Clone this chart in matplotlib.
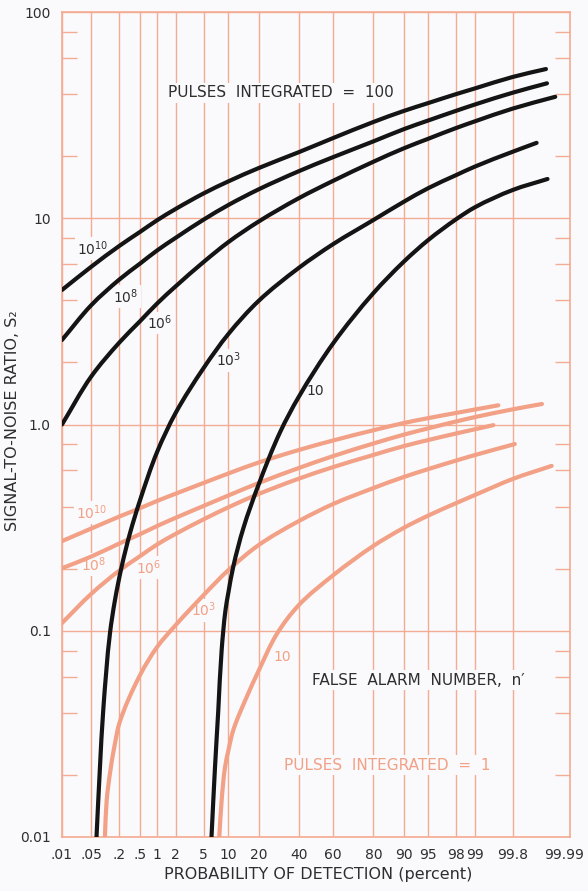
import math
import numpy as np
import matplotlib
matplotlib.use("Agg")
import matplotlib.pyplot as plt
from matplotlib.path import Path
from matplotlib.patches import PathPatch
from matplotlib.transforms import ScaledTranslation

# Probability of detection (percent) and required signal-to-noise ratio S2,
# one curve per false alarm number n'.  First group: 100 pulses integrated.
pd_100_1e10 = [0.01, 0.05, 0.2, 0.5, 1, 2, 5, 10, 20, 40, 60, 80, 90, 95, 98, 99, 99.8, 99.962]
s2_100_1e10 = [4.49, 5.82, 7.35, 8.59, 9.78, 11.1, 13.2, 15.1, 17.5, 20.9, 24.5, 29.3, 33.1, 36.2, 40.0, 42.6, 48.4, 52.9]

pd_100_1e8 = [0.01, 0.05, 0.2, 0.5, 1, 2, 5, 10, 20, 40, 60, 80, 90, 95, 98, 99, 99.8, 99.964]
s2_100_1e8 = [2.57, 3.79, 5.05, 6.03, 6.98, 8.04, 9.85, 11.6, 13.8, 16.9, 19.8, 23.6, 27.0, 29.8, 33.2, 35.6, 40.6, 45.1]

pd_100_1e6 = [0.01, 0.05, 0.2, 0.5, 1, 2, 5, 10, 20, 40, 60, 80, 90, 95, 98, 99, 99.8, 99.977]
s2_100_1e6 = [1.00, 1.71, 2.50, 3.17, 3.86, 4.68, 6.14, 7.67, 9.63, 12.5, 15.2, 18.8, 21.8, 24.3, 27.4, 29.5, 34.0, 38.8]

pd_100_1e3 = [0.0655, 0.078, 0.092, 0.128, 0.1625, 0.222, 0.324, 0.5, 1, 2, 5, 10, 20, 40, 60, 80,
              90, 95, 98, 99, 99.8, 99.938]
s2_100_1e3 = [0.01, 0.0218, 0.0413, 0.0975, 0.141, 0.205, 0.298, 0.43, 0.736, 1.14, 1.88, 2.75, 3.97,
              5.74, 7.50, 9.81, 12.0, 14.0, 16.2, 17.8, 21.0, 23.2]

pd_100_10 = [6.30, 6.96, 7.63, 8.36, 9.26, 10, 11.3, 14.4, 20, 30, 40, 60, 80, 90, 95, 98, 99, 99.8, 99.965]
s2_100_10 = [0.01, 0.0218, 0.0413, 0.0807, 0.126, 0.154, 0.205, 0.315, 0.51, 0.92, 1.36, 2.48, 4.34,
             6.14, 7.85, 9.9, 11.3, 13.7, 15.5]

# Single pulse (no integration)
pd_1_1e10 = [0.01, 0.05, 0.2, 0.5, 1, 2, 5, 10, 20, 40, 60, 80, 90, 95, 98, 99, 99.62]
s2_1_1e10 = [0.272, 0.313, 0.358, 0.393, 0.426, 0.462, 0.521, 0.579, 0.654, 0.752, 0.837, 0.938, 1.016,
             1.074, 1.138, 1.182, 1.239]

pd_1_1e8 = [0.01, 0.05, 0.2, 0.5, 1, 2, 5, 10, 20, 40, 60, 80, 90, 95, 98, 99, 99.8, 99.953]
s2_1_1e8 = [0.201, 0.229, 0.265, 0.294, 0.322, 0.353, 0.403, 0.453, 0.520, 0.615, 0.703, 0.809, 0.892,
            0.958, 1.035, 1.086, 1.184, 1.257]

pd_1_1e6 = [0.01, 0.05, 0.2, 0.5, 1, 2, 5, 10, 20, 40, 60, 80, 90, 95, 98, 99, 99.53]
s2_1_1e6 = [0.109, 0.151, 0.196, 0.230, 0.262, 0.295, 0.347, 0.397, 0.460, 0.546, 0.622, 0.712, 0.785,
            0.841, 0.905, 0.948, 0.993]

pd_1_1e3 = [0.100, 0.109, 0.128, 0.163, 0.2, 0.5, 1, 2, 5, 10, 20, 40, 60, 80, 90, 95, 98, 99, 99.82]
s2_1_1e3 = [0.01, 0.0151, 0.0204, 0.0286, 0.0357, 0.0610, 0.0834, 0.1066, 0.149, 0.197, 0.260, 0.340,
            0.412, 0.492, 0.556, 0.608, 0.669, 0.711, 0.804]

pd_1_10 = [7.84, 8.36, 9.14, 10, 11.3, 15.5, 20, 28.3, 40, 60, 80, 90, 95, 98, 99, 99.8, 99.972]
s2_1_10 = [0.01, 0.0151, 0.0218, 0.0264, 0.0330, 0.0477, 0.0638, 0.0964, 0.133, 0.186, 0.258, 0.315,
           0.362, 0.416, 0.455, 0.544, 0.630]

prob_ticks = [0.01, 0.05, 0.2, 0.5, 1, 2, 5, 10, 20, 40, 60, 80, 90, 95, 98, 99, 99.8, 99.99]
prob_labels = [".01", ".05", ".2", ".5", "1", "2", "5", "10", "20", "40", "60", "80",
               "90", "95", "98", "99", "99.8", "99.99"]
snr_ticks = [0.01, 0.1, 1, 10, 100]
snr_labels = ["0.01", "0.1", "1.0", "10", "100"]

BG = "#fafafc"
SALMON = "#f2a086"
GRID = "#f4ab93"
INK = "#141414"
TEXT = "#2e2e2e"

# inverse normal CDF (Acklam), input in percent
_a = [-3.969683028665376e+01, 2.209460984245205e+02, -2.759285104469687e+02,
      1.383577518672690e+02, -3.066479806614716e+01, 2.506628277459239e+00]
_b = [-5.447609879822406e+01, 1.615858368580409e+02, -1.556989798598866e+02,
      6.680131188771972e+01, -1.328068155288572e+01]
_c = [-7.784894002430293e-03, -3.223964580411365e-01, -2.400758277161838e+00,
      -2.549732539343734e+00, 4.374664141464968e+00, 2.938163982698783e+00]
_d = [7.784695709041462e-03, 3.224671290700398e-01, 2.445134137142996e+00,
      3.754408661907416e+00]


def probit(pct):
    p = np.clip(np.asarray(pct, dtype=float) / 100.0, 1e-12, 1 - 1e-12)
    q = p - 0.5
    r = q * q
    mid = (((((_a[0] * r + _a[1]) * r + _a[2]) * r + _a[3]) * r + _a[4]) * r + _a[5]) * q / \
          (((((_b[0] * r + _b[1]) * r + _b[2]) * r + _b[3]) * r + _b[4]) * r + 1)
    t = np.sqrt(-2 * np.log(np.minimum(p, 1 - p)))
    tail = (((((_c[0] * t + _c[1]) * t + _c[2]) * t + _c[3]) * t + _c[4]) * t + _c[5]) / \
           ((((_d[0] * t + _d[1]) * t + _d[2]) * t + _d[3]) * t + 1)
    tail = np.where(p < 0.5, tail, -tail)
    return np.where((p > 0.02425) & (p < 0.97575), mid, tail)


_erf = np.vectorize(math.erf)


def inv_probit(z):
    z = np.asarray(z, dtype=float)
    return 50.0 * (1.0 + _erf(z / math.sqrt(2.0)))


# rough aspect of one probit unit vs one decade on the sheet
ZX, LY = 68.3, 206.25


def curve_path(p, s):
    """Smooth Bezier path through the points, built in probit/log space."""
    pts = np.column_stack([probit(p) * ZX, np.log10(s) * LY])
    seg = np.diff(pts, axis=0)
    seglen = np.hypot(seg[:, 0], seg[:, 1])
    unit = seg / seglen[:, None]
    tang = np.empty_like(pts)
    tang[0] = unit[0]
    tang[-1] = unit[-1]
    mid = unit[:-1] + unit[1:]
    tang[1:-1] = mid / np.hypot(mid[:, 0], mid[:, 1])[:, None]
    verts = [pts[0]]
    for i in range(len(seg)):
        h = seglen[i] / 3.0
        verts += [pts[i] + tang[i] * h, pts[i + 1] - tang[i + 1] * h, pts[i + 1]]
    verts = np.array(verts)
    data = np.column_stack([inv_probit(verts[:, 0] / ZX), 10 ** (verts[:, 1] / LY)])
    codes = [Path.MOVETO] + [Path.CURVE4] * (len(verts) - 1)
    return Path(data, codes)


plt.rcParams['font.family'] = ['DejaVu Sans']

fig = plt.figure(figsize=(5.88, 8.91), dpi=100, facecolor=BG)
ax = fig.add_axes([62 / 588, 54 / 891, 508 / 588, 825 / 891], facecolor=BG)

ax.set_xscale('function', functions=(probit, inv_probit))
ax.set_yscale('log')

curves_100 = [(pd_100_1e10, s2_100_1e10), (pd_100_1e8, s2_100_1e8), (pd_100_1e6, s2_100_1e6),
              (pd_100_1e3, s2_100_1e3), (pd_100_10, s2_100_10)]
curves_1 = [(pd_1_1e10, s2_1_1e10), (pd_1_1e8, s2_1_1e8), (pd_1_1e6, s2_1_1e6),
            (pd_1_1e3, s2_1_1e3), (pd_1_10, s2_1_10)]

for p, s in curves_1:
    ax.add_patch(PathPatch(curve_path(p, s), fill=False, ec=SALMON, lw=3.0,
                           capstyle='round', zorder=4))
for p, s in curves_100:
    ax.add_patch(PathPatch(curve_path(p, s), fill=False, ec=INK, lw=3.0,
                           capstyle='round', zorder=5))

ax.set_xlim(0.01, 99.99)
ax.set_ylim(0.01, 100)

ax.set_xticks(prob_ticks)
ax.set_xticklabels(prob_labels)
ax.set_yticks(snr_ticks)
ax.set_yticklabels(snr_labels)
minor = [m * d for d in (0.01, 0.1, 1, 10) for m in (2, 4, 6, 8)]
ax.set_yticks(minor, minor=True)
ax.yaxis.set_minor_formatter(plt.NullFormatter())
ax.xaxis.set_minor_locator(plt.NullLocator())

ax.tick_params(which='major', length=0, labelsize=10, labelcolor=TEXT)
ax.tick_params(axis='x', which='major', pad=8)
ax.tick_params(axis='y', which='major', pad=8)
ax.tick_params(axis='y', which='minor', direction='in', length=11, width=1.0,
               color=GRID, left=True, right=True)

# keep the last probability label inside the sheet
last = ax.xaxis.get_major_ticks()[-1].label1
last.set_transform(last.get_transform() + ScaledTranslation(-4 / 72, 0, fig.dpi_scale_trans))

ax.grid(True, which='major', color=GRID, lw=1.0, zorder=0)
for sp in ax.spines.values():
    sp.set_color(GRID)
    sp.set_linewidth(1.2)

box = dict(boxstyle='square,pad=0.15', fc=BG, ec='none')

black_tags = [("$10^{10}$", 0.061, 0.713), ("$10^{8}$", 0.126, 0.655), ("$10^{6}$", 0.193, 0.623),
              ("$10^{3}$", 0.327, 0.578), ("10", 0.498, 0.541)]
for txt, x, y in black_tags:
    ax.text(x, y, txt, transform=ax.transAxes, ha='center', va='center', fontsize=10,
            color=TEXT, bbox=box, zorder=3)

salmon_tags = [("$10^{10}$", 0.059, 0.393), ("$10^{8}$", 0.063, 0.330), ("$10^{6}$", 0.171, 0.327),
               ("$10^{3}$", 0.278, 0.275), ("10", 0.433, 0.218)]
for txt, x, y in salmon_tags:
    ax.text(x, y, txt, transform=ax.transAxes, ha='center', va='center', fontsize=10,
            color=SALMON, bbox=box, zorder=3)

ax.text(0.431, 0.902, "PULSES  INTEGRATED  =  100", transform=ax.transAxes, ha='center',
        va='center', fontsize=11, color=TEXT, bbox=box, zorder=3)
ax.text(0.701, 0.190, "FALSE  ALARM  NUMBER,  n\u2032", transform=ax.transAxes, ha='center',
        va='center', fontsize=11, color=TEXT, bbox=box, zorder=3)
ax.text(0.641, 0.087, "PULSES  INTEGRATED  =  1", transform=ax.transAxes, ha='center',
        va='center', fontsize=11, color=SALMON, bbox=box, zorder=3)

ax.set_xlabel("PROBABILITY OF DETECTION (percent)", fontsize=11.5, color=TEXT)
ax.xaxis.set_label_coords(0.504, -0.036)
ax.set_ylabel("SIGNAL-TO-NOISE RATIO, S\u2082", fontsize=11.5, color=TEXT)
ax.yaxis.set_label_coords(-0.083, 0.505)

fig.savefig("out.png", dpi=100, facecolor=BG)
